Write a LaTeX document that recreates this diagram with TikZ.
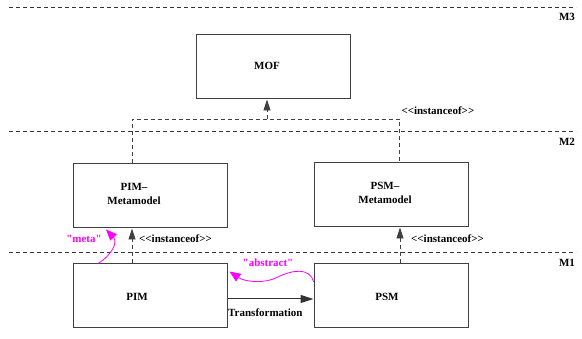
\documentclass[tikz,border=0pt]{standalone}
\usepackage{fontspec}
\setmainfont{Liberation Serif}
\newfontfamily\quotefont[Ligatures=TeXOff]{Liberation Serif}
\usetikzlibrary{arrows.meta}
\definecolor{mag}{RGB}{255,0,255}
\begin{document}
\begin{tikzpicture}[x=1pt,y=-1pt,
  every node/.style={font=\fontsize{11}{12.5}\selectfont\bfseries},
  modelbox/.style={draw=black!75,line width=1pt,minimum width=154pt,minimum height=64pt,inner sep=0pt},
  level/.style={draw=black!80,line width=0.8pt,dash pattern=on 4pt off 3pt},
  dsh/.style={draw=black!75,line width=0.8pt,dash pattern=on 4pt off 3pt},
  inst/.style={dsh,-{Triangle[length=11pt,width=7pt]}},
  solidarrow/.style={draw=black!80,line width=1pt,-{Triangle[length=13pt,width=8pt]}},
  magarrow/.style={draw=mag,line width=0.8pt,-{Triangle[length=11pt,width=9pt]}},
  maglabel/.style={text=mag,font=\fontsize{11}{12.5}\quotefont\bfseries}]
\useasboundingbox (0,0) rectangle (582,339);

% level separators and their names
\coordinate (l3a) at (9,7);   \coordinate (l3b) at (576,7);
\coordinate (l2a) at (9,131); \coordinate (l2b) at (576,131);
\coordinate (l1a) at (9,252); \coordinate (l1b) at (576,252);
\draw[level] (l3a) -- (l3b);
\draw[level] (l2a) -- (l2b);
\draw[level] (l1a) -- (l1b);
\node (m3) at (567,17) {M3};
\node (m2) at (567,142) {M2};
\node (m1) at (567,263) {M1};

% boxes
\node[modelbox] (mof) at (273,67) {};
\node[modelbox] (pimmeta) at (150,196) {};
\node[modelbox] (psmmeta) at (391,195) {};
\node[modelbox] (pim) at (150,296) {};
\node[modelbox] (psm) at (391,296) {};

% box texts
\node (mofT) at (267,66) {MOF};
\node[align=center,inner sep=0pt] (pimmetaT) at (134,194) {PIM–\\[2pt]Metamodel};
\node[align=center,inner sep=0pt] (psmmetaT) at (385,193) {PSM–\\[2pt]Metamodel};
\node (pimT) at (137,297) {PIM};
\node (psmT) at (387,297) {PSM};

% M2 -> M3 instanceof bracket
\coordinate (join) at (267,119);
\draw[dsh] ([xshift=-18pt]pimmeta.north) |- (join)
  -- ([xshift=8pt]psmmeta.north |- join) -- ([xshift=8pt]psmmeta.north);
\draw[inst] (join) -- ([xshift=-6pt]mof.south);
\node[anchor=west] (instTop) at (398,111) {<{}<instanceof>{}>};

% M1 -> M2 instanceof
\draw[inst] ([xshift=-18pt]pim.north) -- ([xshift=-18pt]pimmeta.south);
\node[anchor=west,inner sep=0pt] (instPim) at (139,239) {<{}<instanceof>{}>};
\draw[inst] ([xshift=9pt]psm.north) -- ([xshift=9pt]psmmeta.south);
\node[anchor=west,inner sep=0pt] (instPsm) at (411,239) {<{}<instanceof>{}>};

% transformation
\draw[solidarrow] ([yshift=-3pt]pim.east) -- ([yshift=-3pt]psm.west);
\node[anchor=west,inner sep=0pt] (transT) at (228,313) {Transformation};

% "meta" and "abstract" relations
\coordinate (metaStart) at ([xshift=-52pt]pim.north);
\coordinate (metaEnd) at ([xshift=-44pt,yshift=-1pt]pimmeta.south);
\draw[magarrow] (metaStart) .. controls (112,255) and (118,242) .. (metaEnd);
\node[maglabel,inner sep=0pt] (metaT) at (84,239) {"meta"};

\coordinate (absStart) at ([yshift=14pt]psm.west);
\coordinate (absMid) at (278,277);
\coordinate (absEnd) at ([xshift=2pt,yshift=-8pt]pim.north east);
\draw[magarrow] (absStart) .. controls (310,267) and (292,270) .. (absMid)
  .. controls (265,284) and (245,282) .. (absEnd);
\node[maglabel,inner sep=0pt] (absT) at (268,263) {"abstract"};
\end{tikzpicture}
\end{document}
